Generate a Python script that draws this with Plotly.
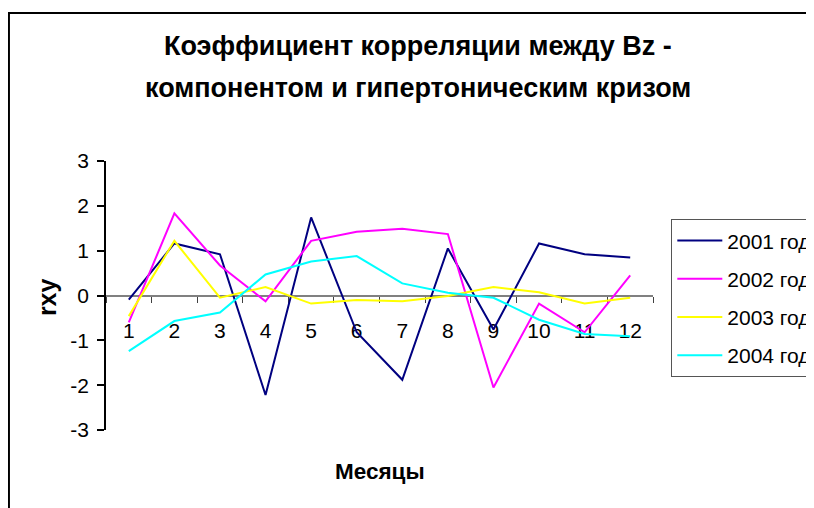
import plotly.graph_objects as go

months = [1, 2, 3, 4, 5, 6, 7, 8, 9, 10, 11, 12]
month_labels = [str(m) for m in months]
series_names = ["2001 год", "2002 год", "2003 год", "2004 год"]
r2001 = [-0.09, 1.16, 0.92, -2.22, 1.74, -0.82, -1.88, 1.05, -0.76, 1.16, 0.92, 0.85]
r2002 = [-0.60, 1.83, 0.67, -0.13, 1.22, 1.42, 1.49, 1.37, -2.05, -0.18, -0.82, 0.45]
r2003 = [-0.46, 1.22, -0.05, 0.19, -0.18, -0.10, -0.13, -0.01, 0.19, 0.07, -0.18, -0.05]
r2004 = [-1.24, -0.57, -0.38, 0.47, 0.76, 0.88, 0.27, 0.06, -0.05, -0.54, -0.86, -0.91]
y_ticks = [-3, -2, -1, 0, 1, 2, 3]
title_lines = ["Коэффициент корреляции между Bz -", "компонентом и гипертоническим кризом"]
x_title = "Месяцы"
y_title = "rxy"
colors = ["#000080", "#FF00FF", "#FFFF00", "#00FFFF"]

# the page body has an 8px margin; work in window pixels and shift
OFF = 8
W, H = 814 - OFF, 508 - OFF
L, R, T, B = 106 - OFF, 652.7 - OFF, 160.7 - OFF, 430.0 - OFF


def px(xp):
    return (xp - OFF - L) / (R - L)


def py(yp):
    return (B - (yp - OFF)) / (B - T)


FONT = "Liberation Sans, Arial, sans-serif"

fig = go.Figure()
for name, vals, c in zip(series_names, [r2001, r2002, r2003, r2004], colors):
    fig.add_trace(go.Scatter(x=month_labels, y=vals, mode="lines", name=name,
                             legendgroup=name,
                             line=dict(color=c, width=2)))

fig.update_layout(
    width=W, height=H,
    margin=dict(l=L, r=W - R, t=T, b=H - B, autoexpand=False, pad=0),
    paper_bgcolor="white", plot_bgcolor="white",
    font=dict(family=FONT, size=21, color="black"),
    showlegend=True,
    legend=dict(x=px(671), y=py(219), xanchor="left", yanchor="top",
                bordercolor="#555555", borderwidth=1, bgcolor="white",
                font=dict(size=21, family=FONT), tracegroupgap=8,
                itemwidth=45, entrywidth=180, entrywidthmode="pixels"),
    xaxis=dict(type="category", categoryorder="array", categoryarray=month_labels,
               range=[-0.5, 11.5], anchor="free", position=0.5,
               showline=True, linecolor="#808080", linewidth=2,
               ticks="outside", tickson="boundaries", ticklen=6, tickcolor="#404040",
               tickwidth=1, showgrid=False, zeroline=False,
               tickfont=dict(size=21, family=FONT), ticklabelstandoff=16,
               layer="below traces"),
    yaxis=dict(range=[-3, 3], tickvals=y_ticks, ticktext=[str(v) for v in y_ticks],
               showline=True, linecolor="black", linewidth=1.5,
               ticks="outside", ticklen=7, tickcolor="black", tickwidth=1.5,
               showgrid=False, zeroline=False,
               tickfont=dict(size=21, family=FONT), ticklabelstandoff=4),
    shapes=[dict(type="rect", xref="paper", yref="paper",
                 x0=px(9), x1=px(840), y0=py(530), y1=py(12.5),
                 line=dict(color="black", width=2), layer="below")],
    annotations=[
        dict(text="<b>" + title_lines[0] + "</b>", xref="paper", yref="paper",
             x=px(418), y=py(46), xanchor="center", yanchor="middle", showarrow=False,
             font=dict(size=27, family=FONT)),
        dict(text="<b>" + title_lines[1] + "</b>", xref="paper", yref="paper",
             x=px(418), y=py(88), xanchor="center", yanchor="middle", showarrow=False,
             font=dict(size=27, family=FONT)),
        dict(text="<b>" + x_title + "</b>", xref="paper", yref="paper",
             x=px(380), y=py(472), xanchor="center", yanchor="middle", showarrow=False,
             font=dict(size=22.5, family=FONT)),
        dict(text="<b>" + y_title + "</b>", xref="paper", yref="paper",
             x=px(47), y=py(297), xanchor="center", yanchor="middle", showarrow=False,
             textangle=-90, font=dict(size=25, family=FONT)),
    ],
)

fig.write_html("out.html")
